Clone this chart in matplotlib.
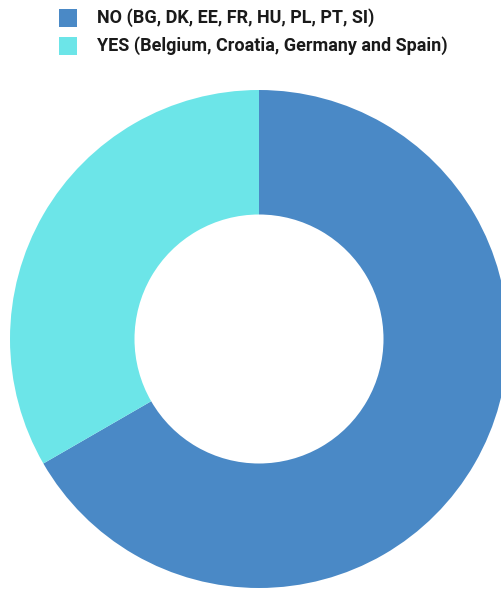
import matplotlib.pyplot as plt
from matplotlib.patches import Rectangle

labels = ["NO (BG, DK, EE, FR, HU, PL, PT, SI)",
          "YES (Belgium, Croatia, Germany and Spain)"]
counts = [8, 4]
colors = ["#4a89c6", "#6ce5e8"]

W, H = 501, 589
fig = plt.figure(figsize=(W / 100, H / 100), dpi=100)

# donut: centre (259, 339) px, outer radius 249 px
cx, cy, r = 259, 339, 249
ax = fig.add_axes([(cx - r) / W, (H - cy - r) / H, 2 * r / W, 2 * r / H])
ax.pie(counts, colors=colors, startangle=90, counterclock=False, radius=1,
       wedgeprops=dict(width=0.5, linewidth=0))
ax.set_xlim(-1, 1)
ax.set_ylim(-1, 1)
ax.set_aspect("auto")
ax.axis("off")

# legend
for i, (lab, col) in enumerate(zip(labels, colors)):
    y = 18 + i * 28
    fig.patches.append(Rectangle(((59) / W, (H - y - 9) / H), 18 / W, 18 / H,
                                 transform=fig.transFigure, facecolor=col,
                                 edgecolor="none"))
    fig.text(97 / W, (H - y) / H, lab, fontsize=13, fontweight="bold",
             family="Roboto", color="#1a1a1a", va="center", ha="left")

fig.savefig("out.png", dpi=100)
